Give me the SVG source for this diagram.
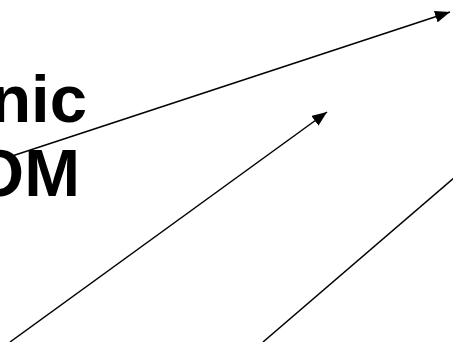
<svg xmlns="http://www.w3.org/2000/svg" width="453" height="342" viewBox="0 0 453 342">
<style>
.t{font-family:"Liberation Sans",Arial,sans-serif;font-weight:bold;font-size:67px;fill:#000}
.c{stroke:#000;stroke-width:1.5;fill:none}
</style>
<defs>
<marker id="ah" viewBox="0 0 10 10" refX="10" refY="5" markerWidth="15" markerHeight="12" markerUnits="userSpaceOnUse" orient="auto" preserveAspectRatio="none">
<path d="M0,0 L10,5 L0,10 Z" fill="#000"/>
</marker>
</defs>
<rect width="453" height="342" fill="#fff"/>
<g id="label">
<text class="t" x="87" y="122" text-anchor="end">nic</text>
<text class="t" x="80" y="196" text-anchor="end">OM</text>
</g>
<g id="connectors">
<line class="c" x1="6" y1="158" x2="450" y2="12" marker-end="url(#ah)"/>
<line class="c" x1="10" y1="342" x2="327" y2="112" marker-end="url(#ah)"/>
<line class="c" x1="263" y1="342" x2="455" y2="177"/>
</g>
</svg>
